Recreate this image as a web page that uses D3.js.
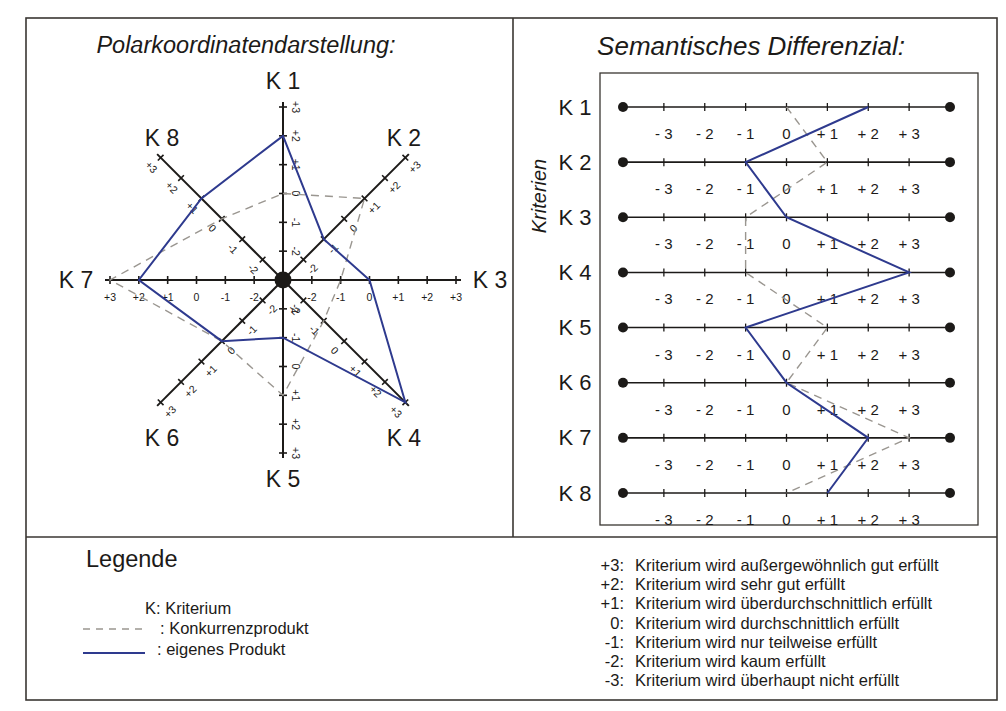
<!DOCTYPE html>
<html>
<head>
  <meta charset="utf-8">
  <title>Polarkoordinaten / Semantisches Differenzial</title>
  <script src="https://cdn.jsdelivr.net/npm/d3@7"></script>
  <style>
    body { margin: 0; background: #fff; }
    svg text { font-family: "Liberation Sans", Arial, sans-serif; fill: #1c1a18; }
  </style>
</head>
<body>
<div id="chart"></div>
<script>
  // criteria and ratings (-3 .. +3)
  let criteria = ['K 1', 'K 2', 'K 3', 'K 4', 'K 5', 'K 6', 'K 7', 'K 8'];
  let ownValues = [2, -1, 0, 3, -1, 0, 2, 1];
  let rivalValues = [0, 1, -1, -1, 1, 0, 3, 0];

  let polarTicks = [-2, -1, 0, 1, 2, 3];
  let polarTickText = ['-2', '-1', '0', '+1', '+2', '+3'];
  let diffTicks = [-3, -2, -1, 0, 1, 2, 3];
  let diffTickText = ['- 3', '- 2', '- 1', '0', '+ 1', '+ 2', '+ 3'];

  let legendCodes = ['+3:', '+2:', '+1:', '0:', '-1:', '-2:', '-3:'];
  let legendMeaning = [
    'Kriterium wird außergewöhnlich gut erfüllt',
    'Kriterium wird sehr gut erfüllt',
    'Kriterium wird überdurchschnittlich erfüllt',
    'Kriterium wird durchschnittlich erfüllt',
    'Kriterium wird nur teilweise erfüllt',
    'Kriterium wird kaum erfüllt',
    'Kriterium wird überhaupt nicht erfüllt'
  ];

  let w = 1006;
  let h = 711;
  let ink = '#1c1a18';
  let blue = '#2e3a8e';
  let grey = '#9a9690';

  let svg = d3.select('#chart').append('svg')
    .attr('width', w)
    .attr('height', h);

  // frames
  let frame = svg.append('g')
    .attr('fill', 'none')
    .attr('stroke', '#3a3632')
    .attr('stroke-width', 1.6);
  frame.append('rect').attr('x', 26).attr('y', 18).attr('width', 971).attr('height', 682);
  frame.append('line').attr('x1', 513).attr('x2', 513).attr('y1', 18).attr('y2', 537);
  frame.append('line').attr('x1', 26).attr('x2', 997).attr('y1', 537).attr('y2', 537);
  frame.append('rect').attr('x', 600).attr('y', 73).attr('width', 378).attr('height', 452)
    .attr('stroke-width', 1.3);

  // ---------- Polarkoordinatendarstellung ----------
  svg.append('text')
    .attr('x', 246).attr('y', 53)
    .attr('text-anchor', 'middle')
    .attr('font-size', 23.5)
    .attr('font-style', 'italic')
    .text('Polarkoordinatendarstellung:');

  let cx = 283;
  let cy = 280;
  let R = 173;

  let rScale = d3.scaleLinear().domain([-3, 3]).range([0, R]);
  let aScale = d3.scaleLinear().domain([0, criteria.length]).range([0, 2 * Math.PI]);

  let polar = svg.append('g').attr('transform', `translate(${cx},${cy})`);

  // unit vectors of each axis (angle measured clockwise from 12 o'clock)
  let dirs = criteria.map((k, i) => {
    let a = aScale(i);
    let dx = Math.sin(a);
    let dy = -Math.cos(a);
    // label side: below the axis, or right of it when vertical
    let nx = -dy, ny = dx;
    if (ny < -1e-6 || (Math.abs(ny) < 1e-6 && nx < 0)) { nx = -nx; ny = -ny; }
    let deg = Math.atan2(dy, dx) * 180 / Math.PI;
    if (deg <= -90) deg += 180;
    if (deg > 90) deg -= 180;
    return { k: k, dx: dx, dy: dy, nx: nx, ny: ny, rot: deg };
  });

  dirs.forEach(d => {
    let ax = polar.append('g');
    ax.append('line')
      .attr('x1', 0).attr('y1', 0)
      .attr('x2', d.dx * (R + 5)).attr('y2', d.dy * (R + 5))
      .attr('stroke', ink).attr('stroke-width', 2);

    ax.selectAll('line.tick')
      .data(polarTicks)
      .enter()
      .append('line')
      .attr('class', 'tick')
      .attr('x1', v => d.dx * rScale(v) - d.nx * 4)
      .attr('y1', v => d.dy * rScale(v) - d.ny * 4)
      .attr('x2', v => d.dx * rScale(v) + d.nx * 4)
      .attr('y2', v => d.dy * rScale(v) + d.ny * 4)
      .attr('stroke', ink).attr('stroke-width', 1.6);

    ax.selectAll('text')
      .data(polarTicks)
      .enter()
      .append('text')
      .attr('font-size', 10.5)
      .attr('text-anchor', 'middle')
      .attr('dominant-baseline', 'central')
      .attr('transform', v => {
        let off = Math.abs(d.ny) > 0.99 ? 17 : 13;
        let x = d.dx * rScale(v) + d.nx * off;
        let y = d.dy * rScale(v) + d.ny * off;
        return `translate(${x},${y}) rotate(${d.rot})`;
      })
      .text((v, i) => polarTickText[i]);

    // axis name: beyond the end on straight axes, above/below the end on diagonals
    let diagonal = Math.abs(d.dx) > 0.1 && Math.abs(d.dy) > 0.1;
    let straightR = R + 26 + 8 * Math.abs(d.dx);
    let lx = diagonal ? d.dx * (R - 2) : d.dx * straightR;
    let ly = diagonal ? d.dy * (R - 2) + (d.dy < 0 ? -21 : 37) : d.dy * straightR;
    polar.append('text')
      .attr('x', lx)
      .attr('y', ly)
      .attr('text-anchor', 'middle')
      .attr('dominant-baseline', 'central')
      .attr('font-size', 23)
      .text(d.k);
  });

  let radial = d3.lineRadial()
    .angle((v, i) => aScale(i))
    .radius(v => rScale(v))
    .curve(d3.curveLinearClosed);

  polar.append('path')
    .attr('d', radial(rivalValues))
    .attr('fill', 'none')
    .attr('stroke', grey)
    .attr('stroke-width', 1.4)
    .attr('stroke-dasharray', '8,6');

  polar.append('path')
    .attr('d', radial(ownValues))
    .attr('fill', 'none')
    .attr('stroke', blue)
    .attr('stroke-width', 2);

  polar.append('circle')
    .attr('r', 8.5)
    .attr('fill', ink);

  // ---------- Semantisches Differenzial ----------
  svg.append('text')
    .attr('x', 751).attr('y', 55)
    .attr('text-anchor', 'middle')
    .attr('font-size', 26)
    .attr('font-style', 'italic')
    .text('Semantisches Differenzial:');

  let xScale = d3.scaleLinear().domain([-4, 4]).range([623, 950]);
  let yScale = d3.scalePoint().domain(criteria).range([107, 493]);

  let rows = svg.append('g').selectAll('g')
    .data(criteria)
    .enter()
    .append('g')
    .attr('transform', k => `translate(0,${yScale(k)})`);

  rows.append('line')
    .attr('x1', xScale(-4)).attr('x2', xScale(4))
    .attr('stroke', ink).attr('stroke-width', 1.6);

  rows.selectAll('circle')
    .data([-4, 4])
    .enter()
    .append('circle')
    .attr('cx', v => xScale(v))
    .attr('r', 5)
    .attr('fill', ink);

  rows.selectAll('line.tick')
    .data(diffTicks)
    .enter()
    .append('line')
    .attr('class', 'tick')
    .attr('x1', v => xScale(v)).attr('x2', v => xScale(v))
    .attr('y1', -4).attr('y2', 4)
    .attr('stroke', ink).attr('stroke-width', 1.3);

  rows.selectAll('text.tl')
    .data(diffTicks)
    .enter()
    .append('text')
    .attr('class', 'tl')
    .attr('x', v => xScale(v))
    .attr('y', 32)
    .attr('text-anchor', 'middle')
    .attr('font-size', 15)
    .text((v, i) => diffTickText[i]);

  rows.append('text')
    .attr('x', 575)
    .attr('y', 0)
    .attr('dominant-baseline', 'central')
    .attr('text-anchor', 'middle')
    .attr('font-size', 22)
    .text(k => k);

  svg.append('text')
    .attr('transform', 'translate(546,196) rotate(-90)')
    .attr('text-anchor', 'middle')
    .attr('font-size', 20)
    .attr('font-style', 'italic')
    .text('Kriterien');

  let diffLine = d3.line()
    .x(v => xScale(v))
    .y((v, i) => yScale(criteria[i]));

  svg.append('path')
    .attr('d', diffLine(rivalValues))
    .attr('fill', 'none')
    .attr('stroke', grey)
    .attr('stroke-width', 1.4)
    .attr('stroke-dasharray', '8,6');

  svg.append('path')
    .attr('d', diffLine(ownValues))
    .attr('fill', 'none')
    .attr('stroke', blue)
    .attr('stroke-width', 2);

  // ---------- Legende ----------
  svg.append('text')
    .attr('x', 86).attr('y', 567)
    .attr('font-size', 23.5)
    .text('Legende');

  svg.append('text')
    .attr('x', 145).attr('y', 614)
    .attr('font-size', 16.5)
    .text('K: Kriterium');

  svg.append('line')
    .attr('x1', 83).attr('x2', 147).attr('y1', 629).attr('y2', 629)
    .attr('stroke', grey).attr('stroke-width', 1.4)
    .attr('stroke-dasharray', '7,6');
  svg.append('text')
    .attr('x', 160).attr('y', 634)
    .attr('font-size', 16.5)
    .text(': Konkurrenzprodukt');

  svg.append('line')
    .attr('x1', 83).attr('x2', 145).attr('y1', 653).attr('y2', 653)
    .attr('stroke', blue).attr('stroke-width', 2);
  svg.append('text')
    .attr('x', 157).attr('y', 655)
    .attr('font-size', 16.5)
    .text(': eigenes Produkt');

  let scaleLegend = svg.append('g').selectAll('g')
    .data(legendCodes)
    .enter()
    .append('g')
    .attr('transform', (c, i) => `translate(0,${571 + i * 19.2})`);

  scaleLegend.append('text')
    .attr('x', 624)
    .attr('text-anchor', 'end')
    .attr('font-size', 16.5)
    .text(c => c);

  scaleLegend.append('text')
    .attr('x', 635)
    .attr('font-size', 16.5)
    .text((c, i) => legendMeaning[i]);
</script>
</body>
</html>
